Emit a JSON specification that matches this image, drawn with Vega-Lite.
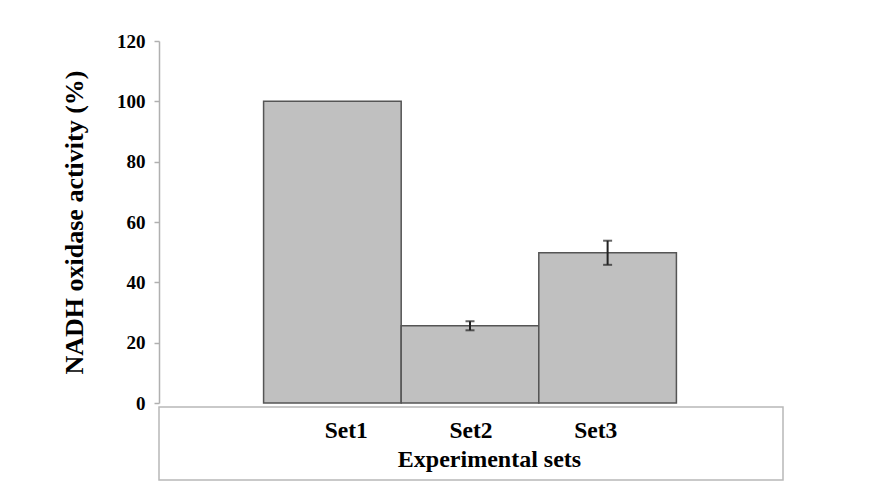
{
  "$schema": "https://vega.github.io/schema/vega-lite/v6.json",
  "autosize": {"type": "pad"},
  "padding": {"left": 61, "top": 32, "right": 0, "bottom": 0},
  "background": "white",
  "data": {"values": [
    {"set": "Set1", "activity": 100},
    {"set": "Set2", "activity": 25.6, "lo": 24.1, "hi": 27.1},
    {"set": "Set3", "activity": 49.8, "lo": 45.8, "hi": 53.8}
  ]},
  "spacing": 4,
  "align": "all",
  "bounds": "flush",
  "resolve": {"scale": {"x": "independent"}},
  "config": {
    "font": "Liberation Serif",
    "view": {"stroke": null}
  },
  "vconcat": [
    {
      "width": 622,
      "height": 362,
      "encoding": {
        "x": {"field": "set", "type": "nominal", "axis": null,
              "scale": {"paddingInner": 0, "paddingOuter": 0.76}}
      },
      "layer": [
        {
          "mark": {"type": "bar", "color": "#c0c0c0", "stroke": "#555555", "strokeWidth": 1.5},
          "encoding": {
            "y": {"field": "activity", "type": "quantitative",
                  "scale": {"domain": [0, 120]},
                  "axis": {"title": "NADH oxidase activity (%)", "values": [0, 20, 40, 60, 80, 100, 120],
                           "grid": false, "domainColor": "#b0b0b0", "domainWidth": 1.5,
                           "tickColor": "#b0b0b0", "tickSize": 5, "tickWidth": 1.5,
                           "labelFont": "Liberation Serif", "labelFontWeight": "bold", "labelFontSize": 19,
                           "labelColor": "black", "labelPadding": 9,
                           "titleFont": "Liberation Serif", "titleFontWeight": "bold", "titleFontSize": 26,
                           "titleColor": "black", "titlePadding": 29}}
          }
        },
        {
          "transform": [{"filter": "isValid(datum.lo)"}],
          "mark": {"type": "rule", "color": "#222222", "strokeWidth": 2},
          "encoding": {
            "y": {"field": "lo", "type": "quantitative"},
            "y2": {"field": "hi"}
          }
        },
        {
          "transform": [{"filter": "isValid(datum.lo)"}],
          "mark": {"type": "tick", "color": "#222222", "size": 9, "thickness": 2},
          "encoding": {"y": {"field": "lo", "type": "quantitative"}}
        },
        {
          "transform": [{"filter": "isValid(datum.lo)"}],
          "mark": {"type": "tick", "color": "#222222", "size": 9, "thickness": 2},
          "encoding": {"y": {"field": "hi", "type": "quantitative"}}
        }
      ]
    },
    {
      "width": 624,
      "height": 73,
      "view": {"stroke": "#b8b8b8", "strokeWidth": 1.5},
      "mark": {"type": "text", "font": "Liberation Serif", "fontWeight": "bold", "fontSize": 23.5, "color": "black", "dy": -13},
      "encoding": {
        "x": {"field": "set", "type": "nominal",
              "scale": {"type": "band", "paddingInner": 0, "paddingOuter": 1.057},
              "axis": {"labels": false, "ticks": false, "domain": false,
                       "title": "Experimental sets", "titleFont": "Liberation Serif", "titleFontWeight": "bold",
                       "titleFontSize": 24, "titleColor": "black", "titlePadding": -33, "titleX": 330}},
        "text": {"field": "set"}
      }
    }
  ]
}
